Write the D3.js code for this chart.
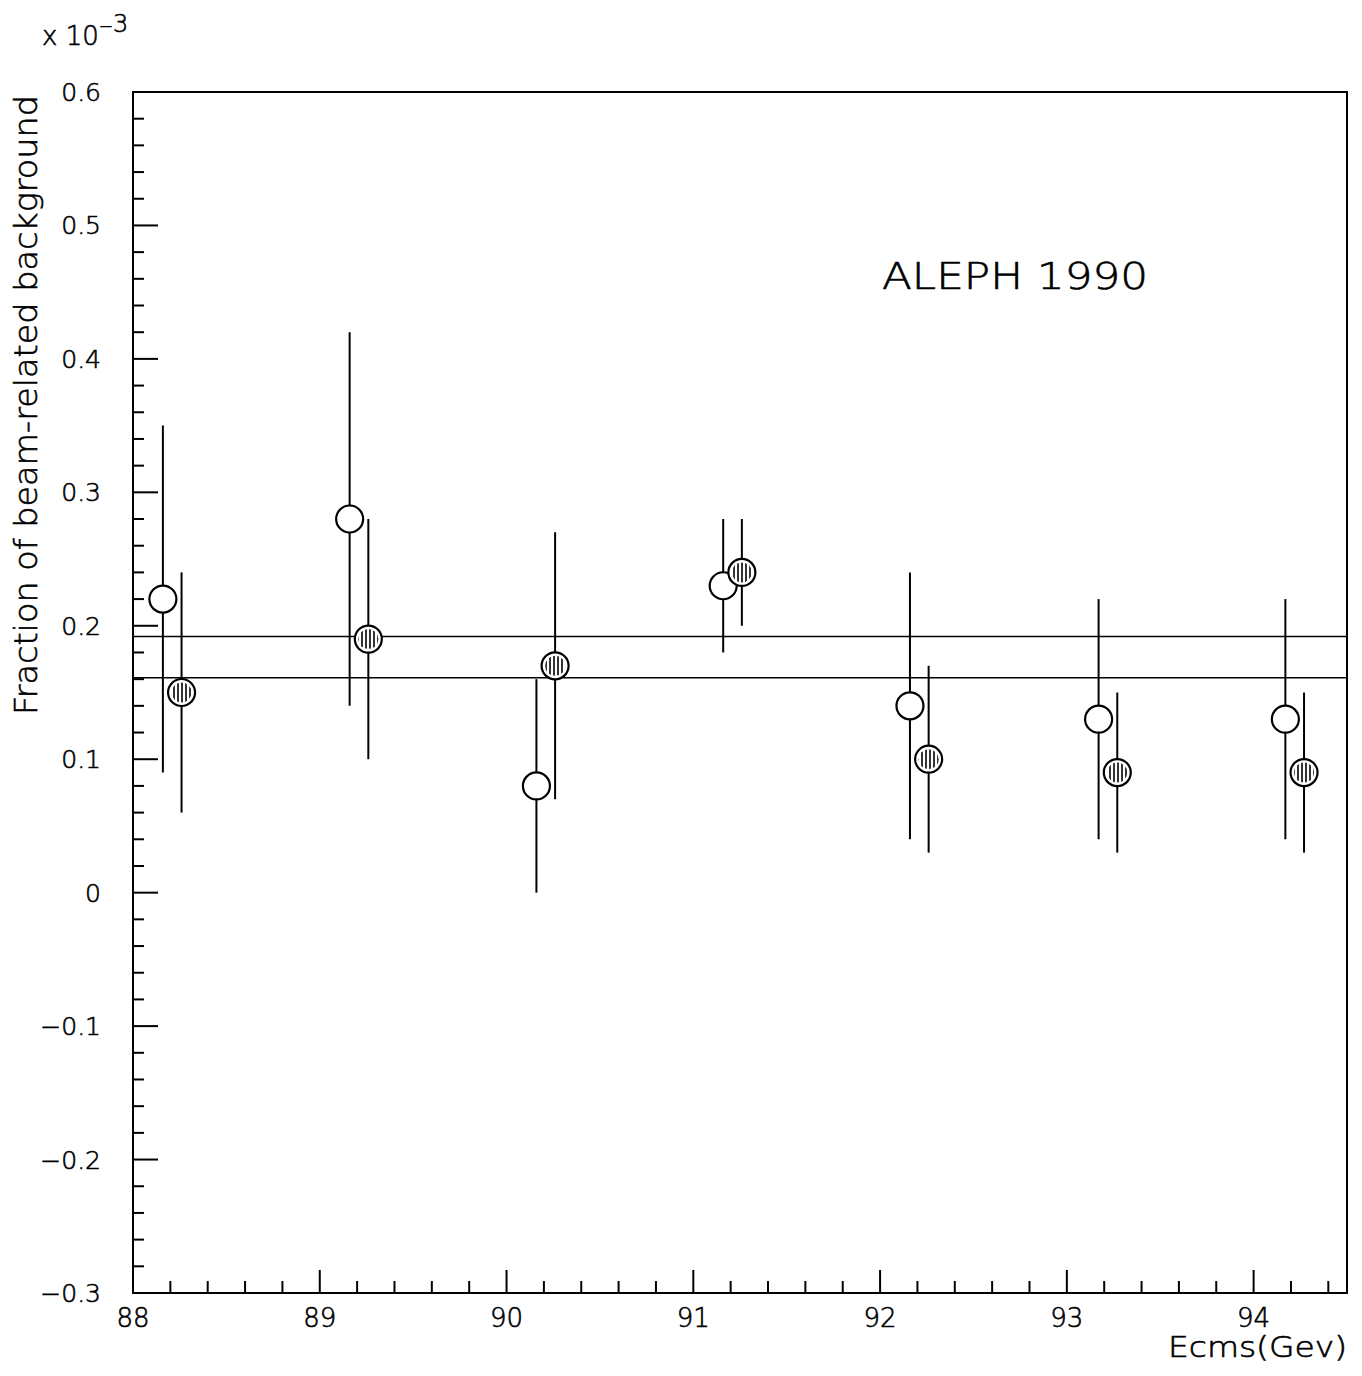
<!DOCTYPE html>
<html><head><meta charset="utf-8">
<script src="https://cdn.jsdelivr.net/npm/d3@7"></script>
<style>
body{margin:0;background:#fff;}
text{font-family:"DejaVu Sans","Liberation Sans",Arial,sans-serif;font-weight:200;fill:#000;stroke:#000;stroke-width:0.6px;}
</style></head>
<body><svg id="c" width="1362" height="1376"></svg>
<script>
// Data
const openE   = [88.16, 89.16, 90.16, 91.16, 92.16, 93.17, 94.17];
const openV   = [0.22, 0.28, 0.08, 0.23, 0.14, 0.13, 0.13];
const openLo  = [0.09, 0.14, 0.00, 0.18, 0.04, 0.04, 0.04];
const openHi  = [0.35, 0.42, 0.16, 0.28, 0.24, 0.22, 0.22];
const hatE    = [88.26, 89.26, 90.26, 91.26, 92.26, 93.27, 94.27];
const hatV    = [0.15, 0.19, 0.17, 0.24, 0.10, 0.09, 0.09];
const hatLo   = [0.06, 0.10, 0.07, 0.20, 0.03, 0.03, 0.03];
const hatHi   = [0.24, 0.28, 0.27, 0.28, 0.17, 0.15, 0.15];
const bandLines = [0.192, 0.161];
const xTicks = [88, 89, 90, 91, 92, 93, 94];
const yTicks = [-0.3, -0.2, -0.1, 0, 0.1, 0.2, 0.3, 0.4, 0.5, 0.6];
const yTickLabels = ["\u22120.3","\u22120.2","\u22120.1","0","0.1","0.2","0.3","0.4","0.5","0.6"];

const svg = d3.select("#c");
const L=133, R=1347, T=92, B=1293;
const x = d3.scaleLinear().domain([88, 94.5]).range([L, R]);
const y = d3.scaleLinear().domain([-0.3, 0.6]).range([B, T]);

// pattern
const defs = svg.append("defs");
const pat = defs.append("pattern").attr("id","hatch").attr("patternUnits","userSpaceOnUse")
  .attr("width",4).attr("height",4);
pat.append("rect").attr("width",4).attr("height",4).attr("fill","#fff");
pat.append("line").attr("x1",2).attr("x2",2).attr("y1",0).attr("y2",4).attr("stroke","#000").attr("stroke-width",1.6);

// minor ticks
const xMinor = d3.range(88, 94.5001, 0.2).map(v=>+v.toFixed(2));
const yMinor = d3.range(-0.3, 0.6001, 0.02).map(v=>+v.toFixed(3));
const g = svg.append("g").attr("stroke","#000").attr("fill","none");
g.selectAll(".xm").data(xMinor).enter().append("line")
  .attr("x1",d=>x(d)).attr("x2",d=>x(d)).attr("y1",B)
  .attr("y2",d=>B-(Math.abs(d-Math.round(d))<1e-6?23:12)).attr("stroke-width",2);
g.selectAll(".ym").data(yMinor).enter().append("line")
  .attr("y1",d=>y(d)).attr("y2",d=>y(d)).attr("x1",L)
  .attr("x2",d=>L+(Math.abs(d*10-Math.round(d*10))<1e-6?25:11)).attr("stroke-width",2);

// frame
svg.append("rect").attr("x",L).attr("y",T).attr("width",R-L).attr("height",B-T)
  .attr("fill","none").attr("stroke","#000").attr("stroke-width",2);

// band lines
svg.selectAll(".band").data(bandLines).enter().append("line")
  .attr("x1",L).attr("x2",R).attr("y1",d=>y(d)).attr("y2",d=>y(d))
  .attr("stroke","#000").attr("stroke-width",1.6);

// error bars
function bars(E, lo, hi){
  svg.append("g").selectAll("line").data(E).enter().append("line")
    .attr("x1",d=>x(d)).attr("x2",d=>x(d))
    .attr("y1",(d,i)=>y(lo[i])).attr("y2",(d,i)=>y(hi[i]))
    .attr("stroke","#000").attr("stroke-width",2);
}
bars(openE, openLo, openHi);
bars(hatE, hatLo, hatHi);

// markers
svg.append("g").selectAll("circle").data(openE).enter().append("circle")
  .attr("cx",d=>x(d)).attr("cy",(d,i)=>y(openV[i])).attr("r",13.5)
  .attr("fill","#fff").attr("stroke","#000").attr("stroke-width",2.2);
const hg = svg.append("g");
hg.selectAll("circle.w").data(hatE).enter().append("circle")
  .attr("cx",d=>x(d)).attr("cy",(d,i)=>y(hatV[i])).attr("r",13.5)
  .attr("fill","#fff").attr("stroke","#000").attr("stroke-width",2.2);
hg.selectAll("circle.h").data(hatE).enter().append("circle")
  .attr("cx",d=>x(d)).attr("cy",(d,i)=>y(hatV[i])).attr("r",10)
  .attr("fill","url(#hatch)").attr("stroke","none");

// tick labels
svg.selectAll(".xl").data(xTicks).enter().append("text")
  .attr("x",d=>x(d)).attr("y",1327).attr("text-anchor","middle")
  .attr("font-size",26).text(d=>d);
svg.selectAll(".yl").data(yTicks).enter().append("text")
  .attr("x",101).attr("y",d=>y(d)+9).attr("text-anchor","end")
  .attr("font-size",25).text((d,i)=>yTickLabels[i]);

// axis titles
svg.append("text").attr("x",1347).attr("y",1357).attr("text-anchor","end")
  .attr("font-size",28).attr("textLength",179).attr("lengthAdjust","spacingAndGlyphs")
  .text("Ecms(Gev)");
svg.append("text").attr("transform","translate(37,405) rotate(-90)")
  .attr("text-anchor","middle").attr("font-size",32)
  .attr("textLength",620).attr("lengthAdjust","spacingAndGlyphs")
  .text("Fraction of beam-related background");

// multiplier
const mt = svg.append("text").attr("x",42).attr("y",45).attr("font-size",26);
mt.append("tspan").text("x 10");
mt.append("tspan").attr("dy",-13).attr("font-size",17).text("\u2212");
mt.append("tspan").attr("dy",0).attr("font-size",24).text("3");

// annotation
svg.append("text").attr("x",882).attr("y",289).attr("font-size",37)
  .attr("textLength",266).attr("lengthAdjust","spacingAndGlyphs").text("ALEPH 1990");
</script></body></html>
